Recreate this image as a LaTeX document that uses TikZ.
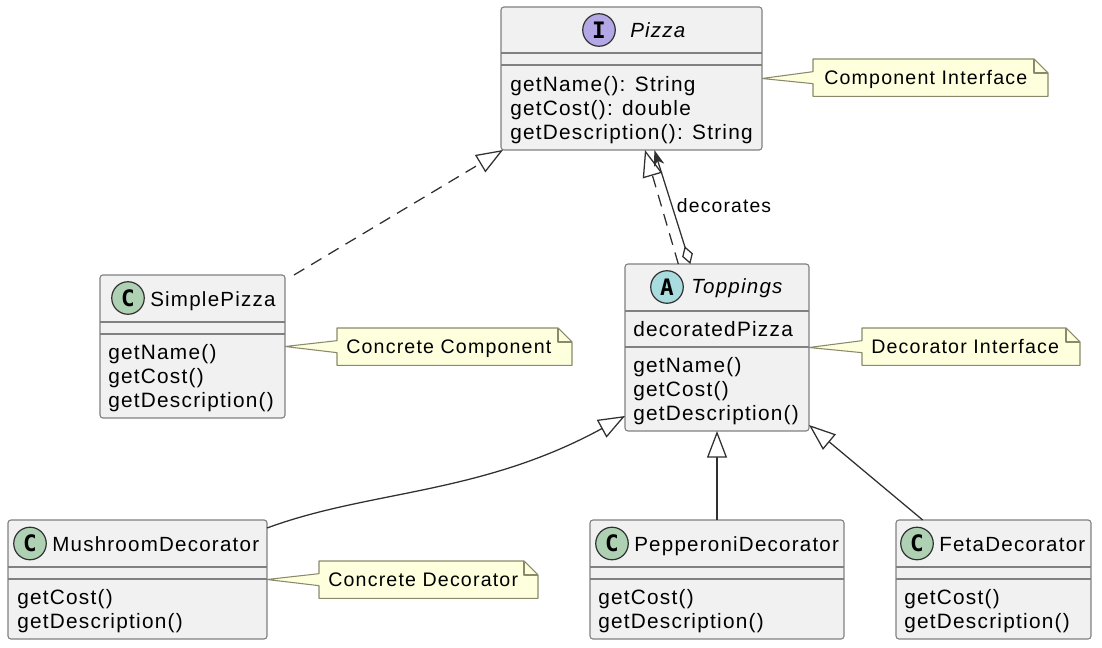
\documentclass[tikz,border=0pt]{standalone}
\usepackage{fontspec}
\setmainfont[LetterSpace=6]{Liberation Sans}
\newfontfamily\spotfont{DejaVu Sans Mono}
\usepackage{tikz}
\usetikzlibrary{arrows.meta,backgrounds}
\definecolor{boxfill}{HTML}{F1F1F1}
\definecolor{boxline}{HTML}{808080}
\definecolor{notefill}{HTML}{FEFFDD}
\definecolor{noteline}{HTML}{8A8A6A}
\definecolor{inkline}{HTML}{303030}
\definecolor{spotI}{HTML}{B4A7E5}
\definecolor{spotA}{HTML}{A9DCDF}
\definecolor{spotC}{HTML}{ADD1B2}
\tikzset{
	class box/.style 2 args={draw=boxline,fill=boxfill,rounded corners=2.2pt,line width=0.8pt,inner sep=0pt,outer sep=0pt,anchor=north west,minimum width=#1*0.75pt,minimum height=#2*0.75pt},
	sep line/.style={draw=boxline,line width=0.8pt},
	spot/.style={circle,draw=inkline,line width=0.9pt,minimum size=24.4pt,inner sep=0pt,font=\spotfont\bfseries\fontsize{17}{17}\selectfont},
	class name/.style={anchor=base west,inner sep=0pt,font=\fontsize{15.4}{18}\selectfont},
	member list/.style={anchor=north west,inner sep=0pt,align=left,font=\fontsize{15.6}{18}\selectfont},
	note box/.style={anchor=north west,inner ysep=0pt,inner xsep=7pt,outer sep=0pt,align=left,font=\fontsize{14.7}{18}\selectfont,text width=#1*0.75pt-14pt,text height=19pt,text depth=9pt},
	link/.style={draw=inkline,line width=0.95pt},
	extend/.style={-{Triangle[open,fill=white,length=20pt,width=15pt]}},
	link label/.style={inner sep=0pt,font=\fontsize{14.5}{18}\selectfont}
}
% outline of a note with its fold and its pointer to the class
\newcommand{\noteshape}[2]{
	\begin{scope}[on background layer]
		\filldraw[draw=noteline,fill=notefill,line width=0.8pt,line join=round] (#1.north west) -- ([xshift=-10.5pt]#1.north east) -- ([yshift=-10.5pt]#1.north east) -- (#1.south east) -- (#1.south west) -- ([yshift=-4.5pt]#1.west) -- (#2.east) -- ([yshift=4.5pt]#1.west) -- cycle;
		\draw[draw=noteline,line width=0.8pt,line join=round] ([xshift=-10.5pt]#1.north east) -- ([xshift=-10.5pt,yshift=-10.5pt]#1.north east) -- ([yshift=-10.5pt]#1.north east);
	\end{scope}
}
\begin{document}
\begin{tikzpicture}[x=0.75pt,y=-0.75pt]
	\useasboundingbox (0,0) rectangle (1102,648);

	% classes
	\node[class box={261}{143}] (pizza) at (501,7) {};
	\node[class box={185}{143}] (simple) at (100,275) {};
	\node[class box={184}{167}] (toppings) at (625,264) {};
	\node[class box={259}{119}] (mushroom) at (8,520) {};
	\node[class box={254}{119}] (pepperoni) at (590,520) {};
	\node[class box={195}{119}] (feta) at (896,520) {};

	\draw[sep line] (pizza.west |- 0,53) -- (pizza.east |- 0,53);
	\draw[sep line] (pizza.west |- 0,65) -- (pizza.east |- 0,65);
	\draw[sep line] (simple.west |- 0,322) -- (simple.east |- 0,322);
	\draw[sep line] (simple.west |- 0,334) -- (simple.east |- 0,334);
	\draw[sep line] (toppings.west |- 0,311) -- (toppings.east |- 0,311);
	\draw[sep line] (toppings.west |- 0,347) -- (toppings.east |- 0,347);
	\draw[sep line] (mushroom.west |- 0,567) -- (mushroom.east |- 0,567);
	\draw[sep line] (mushroom.west |- 0,579) -- (mushroom.east |- 0,579);
	\draw[sep line] (pepperoni.west |- 0,567) -- (pepperoni.east |- 0,567);
	\draw[sep line] (pepperoni.west |- 0,579) -- (pepperoni.east |- 0,579);
	\draw[sep line] (feta.west |- 0,567) -- (feta.east |- 0,567);
	\draw[sep line] (feta.west |- 0,579) -- (feta.east |- 0,579);

	\node[spot,fill=spotI] (pizzaSpot) at (599,30) {I};
	\node[spot,fill=spotC] (simpleSpot) at (128,298) {C};
	\node[spot,fill=spotA] (toppingsSpot) at (667,287) {A};
	\node[spot,fill=spotC] (mushroomSpot) at (30,543.5) {C};
	\node[spot,fill=spotC] (pepperoniSpot) at (612,543.5) {C};
	\node[spot,fill=spotC] (fetaSpot) at (917,543.5) {C};

	\node[class name] (pizzaName) at (630,38) {\itshape Pizza};
	\node[class name] (simpleName) at (150,306) {SimplePizza};
	\node[class name] (toppingsName) at (691,294) {\itshape Toppings};
	\node[class name] (mushroomName) at (52,551) {MushroomDecorator};
	\node[class name] (pepperoniName) at (634,551) {PepperoniDecorator};
	\node[class name] (fetaName) at (939,551) {FetaDecorator};

	\node[member list] (pizzaOps) at (510,76) {getName(): String\\getCost(): double\\getDescription(): String};
	\node[member list] (simpleOps) at (108,344) {getName()\\getCost()\\getDescription()};
	\node[member list] (toppingsAttr) at (633,321) {decoratedPizza};
	\node[member list] (toppingsOps) at (633,357) {getName()\\getCost()\\getDescription()};
	\node[member list] (mushroomOps) at (17,589) {getCost()\\getDescription()};
	\node[member list] (pepperoniOps) at (598,589) {getCost()\\getDescription()};
	\node[member list] (fetaOps) at (904,589) {getCost()\\getDescription()};

	% notes
	\node[note box=235] (componentNote) at (813,59) {\hspace{1.5pt}Component Interface};
	\node[note box=235] (concreteNote) at (337,328) {Concrete Component};
	\node[note box=218] (decoratorNote) at (862,328) {Decorator Interface};
	\node[note box=219] (mushroomNote) at (319,561) {Concrete Decorator};
	\noteshape{componentNote}{pizza}
	\noteshape{concreteNote}{simple}
	\noteshape{decoratorNote}{toppings}
	\noteshape{mushroomNote}{mushroom}

	% relations
	\draw[link,dash pattern=on 9pt off 6pt,extend] ([xshift=6.75pt]simple.north east) -- ([xshift=1.5pt]pizza.south west);
	\draw[link,dash pattern=on 9pt off 6pt,extend] ([xshift=40pt]toppings.north west) -- ([xshift=108pt]pizza.south west);
	\draw[link,{Diamond[open,fill=white,length=14pt,width=8.5pt]}-{Stealth[length=12pt,width=8pt,inset=3.5pt]}] ([xshift=49pt]toppings.north west) -- node[link label,anchor=west,xshift=3pt,yshift=1pt] (decoratesLabel) {decorates} ([xshift=115pt]pizza.south west);
	\draw[link,extend] (mushroom.north east |- 0,528) .. controls (370,490) and (480,495) .. (toppings.west |- 0,416);
	\draw[link,extend] (pepperoni.north -| 717,0) -- (toppings.south -| 717,0);
	\draw[link,extend] ([xshift=20pt]feta.north west) -- ([yshift=4.5pt]toppings.south east);
\end{tikzpicture}
\end{document}
